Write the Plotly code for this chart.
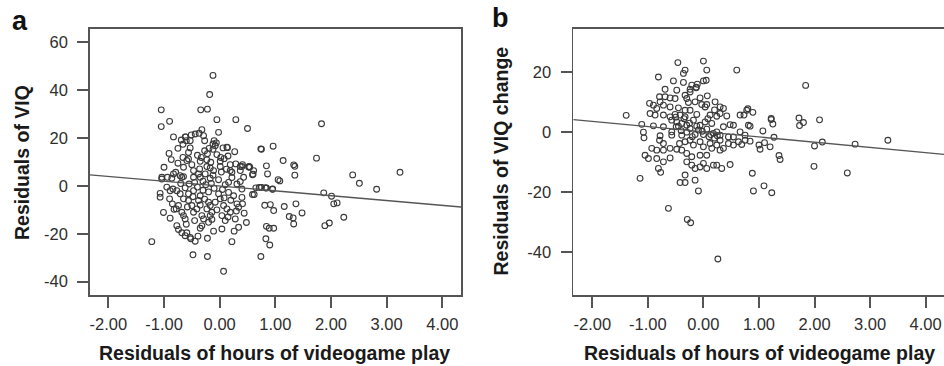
import plotly.graph_objects as go

# ---------------- data ----------------
# Panel a: residuals of hours of videogame play (x) vs residuals of VIQ (y)
a_x = [-0.12, -0.18, -0.34, -0.22, -1.05, -1.05, -0.90, -0.05, 0.29, 0.50, 1.83,
       -0.83, -0.32, -0.37, -0.29, -0.02, -0.51, -0.61, -0.69,
       0.13, 0.14, 0.27, 0.74, 0.75, 0.96, 1.74, 1.14, 1.33, 1.35, 1.35, 1.05, 1.08, 0.84, 0.86, 0.54, 0.52, 0.60, 0.41, 0.22,
       2.39, 2.51, 2.82, 3.24, 1.87, 2.01, 2.05, 2.11, 2.23, 1.89, 1.97, 1.48, 1.37, 1.16, 1.25, 1.32, 1.33,
       0.83, 0.84, 0.95, 0.81, 0.91, 0.97, 0.97, 0.89, 0.84, 0.83, 0.90, 0.74,
       0.62, 0.75, 0.71, 0.48, 0.44, 0.34, 0.26, 0.22, 0.07, -0.22, -0.48, -1.22, -1.01, -1.07, -1.07, -0.89,
       -0.74, -0.68, -0.59, -0.52, -0.44, -0.39, -0.22, -0.11, 0.04, -0.35, -0.32,
       -0.62, -0.60, -0.53, -0.44, -0.10, -0.06, -0.12, -0.27, -0.66, -0.75, -0.53, -0.56, -0.66, -0.56, -0.91, -0.87,
       -1.00, -0.79, -0.94, -1.04, -0.27, -0.19, -0.12, -0.08, 0.06, -0.05, 0.02, 0.08, 0.01, -0.33, -0.23, -0.16,
       -0.35, -0.50, -0.59, -0.65, 0.01, 0.19, 0.29, 0.37, 0.61, 0.37, 0.19, -0.36, -0.23, -0.17, -0.11, -0.47,
       -0.38, -0.26, -0.83, -0.71, -0.65,
       -1.04, -0.86, -0.68, -0.47, -0.35, -0.17, -0.02, 0.16, 0.31, 0.37,
       -0.89, -0.84, -0.90, -0.77, -0.71, -0.65, -0.74, -0.78, -0.68, -0.65, -0.62,
       -0.56, -0.50, -0.41, -0.47, -0.56, -0.47, -0.35, -0.38, -0.32, -0.29,
       -0.20, -0.17, -0.23, -0.14, -0.17, -0.20, -0.02, 0.01, 0.07, 0.13, 0.04, 0.10,
       0.16, 0.25, 0.31, 0.34, 0.19, 0.28, -0.77, -0.62, -0.53,
       0.65, 0.74, 0.82, 0.95, 0.40, 0.59, 0.41, 0.40, 0.53, 0.40, 0.59, 0.43,
       -0.30, -0.25, -0.15, -0.10, -0.40, -0.55, -0.62, -0.20, 0.05, 0.10, -0.45, -0.30, -0.12, 0.03,
       -0.48, -0.27, -0.08, 0.08, 0.20, -0.58, -0.35, -0.85, -0.95, -0.70, 0.22, 0.12, -0.40, -0.22,
       0.15, -0.75, -0.82, -0.14, 0.15, 0.30, -0.05, -0.60, -0.45]
a_y = [46.2, 38.2, 31.8, 32.1, 31.8, 24.8, 27.0, 27.7, 27.7, 24.0, 26.0,
       20.5, 23.5, 22.0, 21.0, 22.4, 21.3, 20.5, 19.2,
       16.2, 16.0, 14.3, 15.5, 15.3, 16.6, 11.6, 10.6, 8.8, 8.2, 4.5, 2.6, 2.1, 8.4, 5.0, 7.8, 7.9, 4.9, 8.9, 5.7,
       4.6, 1.1, -1.4, 5.7, -2.9, -4.3, -7.5, -7.1, -13.1, -16.6, -15.5, -11.3, -7.5, -8.6, -12.8, -13.4, -15.9,
       -0.8, -0.9, -1.4, -8.1, -7.8, -10.3, -17.7, -17.7, -16.9, -22.1, -24.7, -29.5,
       -3.6, -0.6, -0.6, -15.3, -11.4, -17.3, -18.9, -23.3, -35.7, -29.5, -28.8, -23.3, -11.1, -4.7, -3.1, -13.5,
       -18.2, -19.6, -19.6, -22.1, -23.1, -21.0, -21.9, -18.9, -18.0, -17.7, -16.7,
       20.5, 18.9, 18.9, 21.7, 18.9, 18.0, 17.5, 18.9, 17.4, 15.7, 15.9, 14.0, 11.9, 11.3, 13.6, 11.0,
       7.8, 5.7, 3.6, 3.6, 14.7, 15.7, 15.3, 16.8, 15.9, 13.1, 11.9, 11.4, 10.3, 11.9, 10.9, 9.9,
       10.3, 8.9, 10.6, 7.8, 8.1, 8.9, 9.2, 8.1, 6.4, 6.4, 6.4, 7.1, 8.1, 7.5, 6.4, 6.4,
       5.0, 5.0, 5.0, 4.3, 3.9,
       2.9, 3.2, 3.6, 3.6, 3.6, 3.2, 2.6, 1.5, 0.8, 1.8,
       -2.0, -1.3, -5.4, -2.0, -3.3, -5.4, -8.2, -9.6, -11.0, -12.4, -13.8,
       -6.1, -8.2, -9.6, -11.0, -3.3, -2.0, -4.1, -6.1, -12.4, -13.8,
       -6.8, -8.2, -9.6, -11.0, -12.4, -15.2, -3.3, -5.4, -8.2, -9.6, -12.4, -14.5,
       -2.7, -4.1, -7.5, -8.9, -11.0, -13.8, -16.6, -20.8, -21.5,
       -0.8, -0.6, -0.8, -1.3, -1.3, -3.6, -7.5, -4.8, 8.1, 8.1, 4.7, 3.6,
       2.0, 0.5, 1.0, -1.0, -0.5, 0.8, -0.8, -2.5, -1.5, 0.5, 1.5, -1.8, 4.5, 5.8,
       -4.5, -5.5, -6.8, -5.0, -6.0, -8.8, -8.0, -7.5, -0.5, 1.0, 3.5, 7.0, 12.8, 13.5,
       12.5, 9.5, -9.8, -14.0, -13.0, -10.5, -10.0, -16.0, -14.5]

# Panel b: residuals of hours of videogame play (x) vs residuals of VIQ change (y)
b_x = [-0.46, 0.00, 0.06, 0.60, -0.33, -0.36, -0.81, 0.05, -0.54, -0.36, 0.00, -0.11, -0.13,
       -0.69, -0.48, -0.24, -0.21, -0.13,
       -0.79, -0.69, -0.60, -0.51, -0.78, -0.33, -0.30, -0.27, -0.24,
       -0.15, -0.06, 0.07, 0.06, -0.97, -0.90, -0.84, -0.96, -0.87,
       -0.72, -0.60, -0.45, -0.33, -0.24, -0.03, 0.03, 0.21, 0.30, 0.36,
       -0.72, -0.60, -0.51, -0.42, -0.33, -1.39,
       -0.12, 0.12, 0.24, 0.30, 0.42, 0.66, 0.78,
       -0.57, -0.48, -0.39, -0.30, -0.18, -0.06, 0.03, 0.15,
       -1.11, -0.90, -0.72, -0.49, -0.24, -0.09, 0.06, 0.24, 0.36, 0.54,
       -0.78, -0.57, -0.39, -0.15, 0.00, 0.18, 0.30, 0.66, 0.75, 0.54, 0.81,
       -1.08, -1.07, -0.79, -0.72, -0.57,
       -0.43, -0.33, -0.24, -0.18, -0.06, 0.00, 0.12, 0.24, 0.30,
       0.45, 0.45, 0.54, 0.63, 0.75,
       -0.93, -0.84, -1.05, -0.99, -0.84, -0.72, -0.60,
       -0.72, -0.60, -0.48, -0.39, -0.30, -0.21, -0.06, 0.06, 0.15, 0.30, 0.36, 0.24, 0.18, 0.33, 0.48,
       -0.30, -0.21, -0.15, -0.06, 0.00, 0.06, -0.81, -0.77, -1.14,
       -0.33, -0.42, -0.33, -0.15, -0.09, -0.63,
       1.84, 1.72, 1.80, 1.73, 2.09, 1.22, 1.22, 1.25, 0.80, 0.73, 0.89, 0.84, 1.07,
       0.69, 0.84, 1.00, 1.02, 1.10, 1.20, 1.27, 1.36, 1.38,
       2.00, 2.14, 1.99, 2.73, 3.32, 2.59, 0.88, 0.90, 1.09, 1.23,
       -0.29, -0.23, 0.26, 0.20, 0.48,
       -0.45, -0.35, -0.25, -0.12, -0.02, 0.10, 0.20, -0.20, 0.08, -0.40, -0.50, 0.13, 0.25, -0.30]
b_y = [23.2, 23.7, 20.7, 20.7, 20.7, 19.6, 18.4, 17.3, 17.1, 16.6, 17.1, 16.0, 15.0,
       14.3, 14.0, 14.3, 15.7, 14.8,
       11.8, 11.8, 11.4, 11.2, 10.1, 12.3, 11.2, 9.9, 13.4,
       10.1, 11.4, 12.1, 9.2, 9.6, 9.0, 7.9, 6.2, 5.7,
       9.0, 8.4, 8.1, 7.3, 7.3, 9.2, 8.4, 10.1, 8.4, 7.9,
       5.7, 5.1, 5.9, 5.7, 5.1, 5.6,
       5.9, 5.7, 5.3, 6.2, 5.4, 5.7, 7.3,
       4.0, 3.4, 2.9, 2.3, 4.0, 2.3, 3.4, 2.9,
       2.6, 2.1, 1.8, 1.8, 1.2, 0.7, 1.0, 0.1, 1.8, 2.3,
       -1.2, -1.0, -1.0, -0.8, -0.8, -0.4, -1.0, 0.1, -1.0, -1.6, 2.3,
       0.0, -1.9, -2.7, -3.8, 0.1,
       -3.8, -3.2, -2.7, -4.3, -3.2, -4.9, -3.8, -4.3, -2.7,
       -1.6, -3.8, -4.3, -3.2, -2.7,
       -5.4, -6.0, -7.7, -8.8, -8.8, -9.9, -8.6,
       -6.0, -5.4, -5.7, -6.0, -7.1, -8.2, -7.7, -7.7, -5.4, -6.0, -5.4, -11.0, -11.0, -12.1, -10.8,
       -9.9, -11.0, -12.1, -11.6, -10.4, -12.1, -12.1, -13.4, -15.4,
       -14.3, -16.8, -16.8, -16.0, -19.6, -25.4,
       15.6, 4.7, 3.2, 2.2, 4.1, 4.6, 4.2, 2.7, 7.8, 5.7, 6.6, 2.0, 0.4,
       -4.1, -3.0, -4.3, -5.7, -3.5, -4.9, -1.7, -7.8, -9.1,
       -4.6, -3.3, -11.4, -4.0, -2.7, -13.6, -13.7, -19.6, -17.9, -20.2,
       -29.1, -30.2, -42.3, 7.4, 2.5,
       2.0, 4.5, 3.0, 2.0, 0.3, -1.5, -2.0, -1.5, 4.5, 0.5, 5.0, -0.8, -1.2, 0.0]

# fitted regression lines (intercept, slope)
a_fit = (-0.05, -2.02)
b_fit = (0.13, -1.74)

# axis ranges and ticks
a_xrange = [-2.33, 4.336]
a_yrange = [-45.6, 65.6]
b_xrange = [-2.342, 4.33]
b_yrange = [-54.3, 34.4]
x_tickvals = [-2, -1, 0, 1, 2, 3, 4]
x_ticktext = ["-2.00", "-1.00", "0.00", "1.00", "2.00", "3.00", "4.00"]
a_ytickvals = [-40, -20, 0, 20, 40, 60]
a_yticktext = ["-40", "-20", "0", "20", "40", "60"]
b_ytickvals = [-40, -20, 0, 20]
b_yticktext = ["-40", "-20", "0", "20"]

x_title = "Residuals of hours of videogame play"
a_ytitle = "Residuals of VIQ"
b_ytitle = "Residuals of VIQ change"

# ---------------- figure ----------------
FONT = "Liberation Sans, Arial, Helvetica, sans-serif"
W, H = 944, 366


def px(xp):
    return xp / W


def py(yp):
    return (H - yp) / H


MARK = dict(symbol="circle-open", size=5.8, color="#3a3a3a", line=dict(width=1.1, color="#3a3a3a"))
LINEC = "#555555"

fig = go.Figure()
fig.add_trace(go.Scatter(x=a_x, y=a_y, mode="markers", marker=MARK, xaxis="x", yaxis="y", showlegend=False))
fig.add_trace(go.Scatter(x=a_xrange, y=[a_fit[0] + a_fit[1] * v for v in a_xrange], mode="lines",
                         line=dict(color=LINEC, width=1.3), xaxis="x", yaxis="y", showlegend=False))
fig.add_trace(go.Scatter(x=b_x, y=b_y, mode="markers", marker=MARK, xaxis="x2", yaxis="y2", showlegend=False))
fig.add_trace(go.Scatter(x=b_xrange, y=[b_fit[0] + b_fit[1] * v for v in b_xrange], mode="lines",
                         line=dict(color=LINEC, width=1.3), xaxis="x2", yaxis="y2", showlegend=False))

tickfont = dict(family=FONT, size=16.5, color="#2e2e2e")
axcommon = dict(showgrid=False, zeroline=False, showline=True, linecolor="#555555", linewidth=1.8,
                ticks="outside", ticklen=11, tickwidth=2, tickcolor="#555555", tickfont=tickfont,
                fixedrange=True)
ydom = [py(295), py(29)]

fig.update_layout(
    width=W, height=H, margin=dict(l=0, r=0, t=0, b=0),
    paper_bgcolor="white", plot_bgcolor="white",
    xaxis=dict(domain=[px(90), px(461)], range=a_xrange, tickvals=x_tickvals, ticktext=x_ticktext,
               mirror=True, anchor="y", ticklabelstandoff=2, **axcommon),
    yaxis=dict(domain=ydom, range=a_yrange, tickvals=a_ytickvals, ticktext=a_yticktext,
               mirror=True, anchor="x", ticklabelstandoff=6, **axcommon),
    xaxis2=dict(domain=[px(573.3), 1.0], range=b_xrange, tickvals=x_tickvals, ticktext=x_ticktext,
                mirror=True, anchor="y2", ticklabelstandoff=2, **axcommon),
    yaxis2=dict(domain=ydom, range=b_yrange, tickvals=b_ytickvals, ticktext=b_yticktext,
                mirror=False, anchor="x2", ticklabelstandoff=6, **axcommon),
)

titlefont = dict(family=FONT, size=19.5, color="#1a1a1a")
ann = [
    dict(text="<b>" + x_title + "</b>", x=px(274.5), y=py(353)),
    dict(text="<b>" + x_title + "</b>", x=px(759), y=py(353)),
    dict(text="<b>" + a_ytitle + "</b>", x=px(21.5), y=py(162.5), textangle=-90),
    dict(text="<b>" + b_ytitle + "</b>", x=px(500.5), y=py(161), textangle=-90),
]
for a in ann:
    fig.add_annotation(xref="paper", yref="paper", xanchor="center", yanchor="middle",
                       showarrow=False, font=titlefont, **a)
fig.add_annotation(text="<b>a</b>", x=px(20), y=py(21), xref="paper", yref="paper",
                   xanchor="center", yanchor="middle", showarrow=False,
                   font=dict(family=FONT, size=27, color="#111111"))
fig.add_annotation(text="<b>b</b>", x=px(500.5), y=py(17.5), xref="paper", yref="paper",
                   xanchor="center", yanchor="middle", showarrow=False,
                   font=dict(family=FONT, size=27, color="#111111"))

# remove the default page margin so the figure sits at the window's top-left corner
fig.write_html("out.html", config={"displayModeBar": False, "staticPlot": True},
               post_script="document.body.style.margin='0';document.body.style.overflow='hidden';")
